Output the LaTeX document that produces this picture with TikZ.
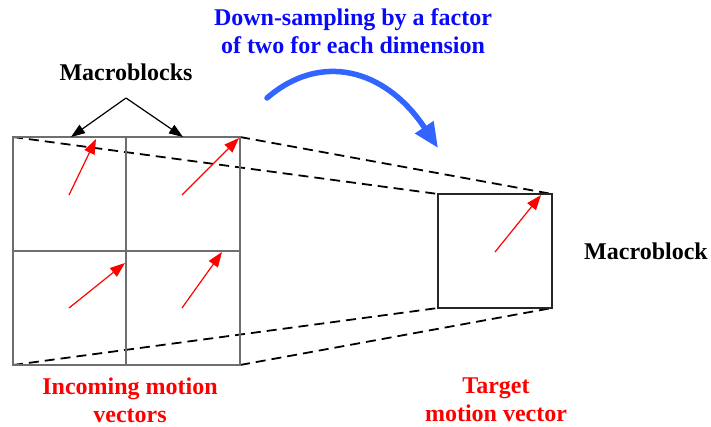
\documentclass[tikz,border=0pt]{standalone}
\usepackage{fontspec}
\setmainfont{Liberation Serif}
\usetikzlibrary{arrows.meta}
\definecolor{txtblue}{RGB}{10,10,250}
\definecolor{arrblue}{RGB}{50,100,255}
\definecolor{gridgray}{RGB}{110,110,110}
\tikzset{
  lbl/.style={font=\fontsize{24}{28}\selectfont\bfseries, align=center, inner sep=0pt},
  gridline/.style={draw=gridgray, line width=1.4pt},
  proj/.style={draw=black, line width=1.8pt, dash pattern=on 10pt off 6pt},
  mv/.style={draw=red, line width=1.2pt, -{Triangle[length=15pt,width=11pt]}},
  mbarrow/.style={draw=black, line width=1.2pt, -{Triangle[length=14pt,width=10pt]}},
}
\begin{document}
\begin{tikzpicture}[x=1pt,y=-1pt]
\useasboundingbox (0,0) rectangle (711,426);
% big square corners
\coordinate (BTL) at (13,137);
\coordinate (BTR) at (240,137);
\coordinate (BBL) at (13,365);
\coordinate (BBR) at (240,365);
\coordinate (BTM) at (126,137);
\coordinate (BBM) at (126,365);
\coordinate (BML) at (13,251);
\coordinate (BMR) at (240,251);
% small square corners
\coordinate (STL) at (438,194);
\coordinate (STR) at (552,194);
\coordinate (SBL) at (438,308);
\coordinate (SBR) at (552,308);
% projection lines
\draw[proj] (BTL) -- (STL);
\draw[proj] (BTR) -- (STR);
\draw[proj] (BBL) -- (SBL);
\draw[proj] (BBR) -- (SBR);
% grid
\draw[gridline] (BTL) rectangle (BBR);
\draw[gridline] (BTM) -- (BBM);
\draw[gridline] (BML) -- (BMR);
% small square
\draw[draw=black!85, line width=1.2pt] (STL) rectangle (SBR);
% motion vectors
\coordinate (t1) at (69,195); \coordinate (h1) at (96,139);
\coordinate (t2) at (182,195); \coordinate (h2) at (239,138);
\coordinate (t3) at (69,308); \coordinate (h3) at (125,263);
\coordinate (t4) at (182,308); \coordinate (h4) at (222,252);
\coordinate (t5) at (495,252); \coordinate (h5) at (541,195);
\draw[mv] (t1) -- (h1);
\draw[mv] (t2) -- (h2);
\draw[mv] (t3) -- (h3);
\draw[mv] (t4) -- (h4);
\draw[mv] (t5) -- (h5);
% labels
\node[lbl] (mbs) at (126,72) {Macroblocks};
\coordinate (apex) at (126,98);
\coordinate (ha) at (71,137);
\coordinate (hb) at (183,137);
\draw[mbarrow] (apex) -- (ha);
\draw[mbarrow] (apex) -- (hb);
\node[lbl, text=txtblue] (ds) at (353,31) {Down-sampling by a factor\\of two for each dimension};
\node[lbl] (mb) at (646,251) {Macroblock};
\node[lbl, text=red] (inc) at (130,400) {Incoming motion\\vectors};
\node[lbl, text=red] (tgt) at (496,400) {Target\\motion vector};
% blue curved arrow
\coordinate (bs) at (267,98);
\coordinate (be) at (438,148);
\draw[arrblue, line width=5.5pt, line cap=round, -{Triangle[length=25pt,width=21pt]}]
  (bs) .. controls (320,52) and (385,68) .. (be);
\end{tikzpicture}
\end{document}
